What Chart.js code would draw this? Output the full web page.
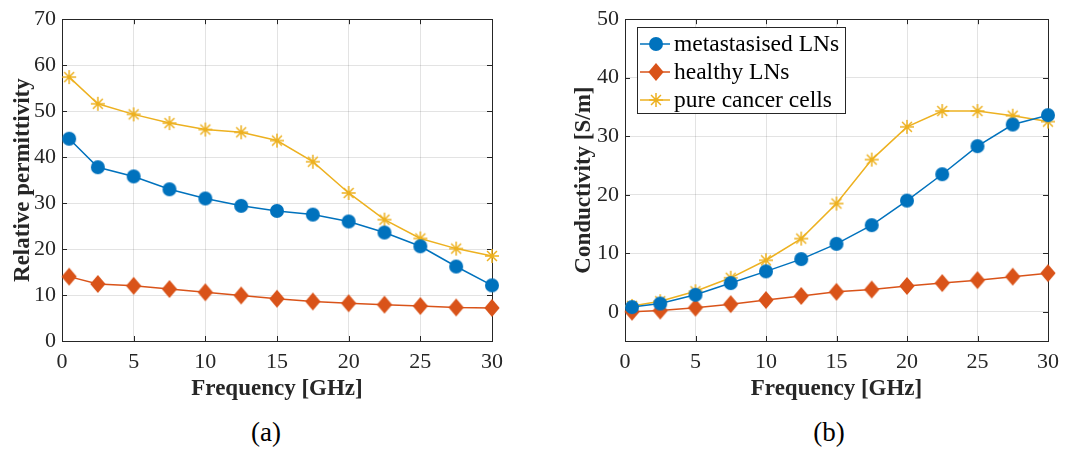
<!DOCTYPE html>
<html><head><meta charset="utf-8">
<script src="https://cdn.jsdelivr.net/npm/chart.js@4/dist/chart.umd.min.js"></script>
<style>
html,body{margin:0;padding:0;background:#fff;width:1067px;height:450px;overflow:hidden;}
#wrapA{position:absolute;left:0;top:0;width:533px;height:405px;}
#wrapB{position:absolute;left:533px;top:0;width:534px;height:405px;}
.cap{position:absolute;top:417px;font-family:"Liberation Serif",serif;font-size:27px;line-height:30px;color:#000;transform:translateX(-50%);}
</style></head>
<body>
<div id="wrapA"><canvas id="cA" width="533" height="405"></canvas></div>
<div id="wrapB"><canvas id="cB" width="534" height="405"></canvas></div>
<div class="cap" style="left:266px">(a)</div>
<div class="cap" style="left:829px">(b)</div>
<script>
// ---- data ----
const frequency = [0.5, 2.5, 5, 7.5, 10, 12.5, 15, 17.5, 20, 22.5, 25, 27.5, 30];
const seriesNames = ['metastasised LNs', 'healthy LNs', 'pure cancer cells'];
const permMetastasised = [44.0, 37.8, 35.8, 33.0, 31.0, 29.4, 28.3, 27.5, 26.0, 23.6, 20.6, 16.2, 12.1];
const permHealthy      = [14.0, 12.4, 12.0, 11.3, 10.6, 9.9, 9.2, 8.6, 8.2, 7.9, 7.6, 7.3, 7.2];
const permCancer       = [57.4, 51.6, 49.3, 47.4, 46.0, 45.4, 43.6, 39.0, 32.2, 26.4, 22.3, 20.1, 18.5];
const condMetastasised = [0.8, 1.4, 2.9, 4.9, 6.9, 9.0, 11.6, 14.8, 19.0, 23.5, 28.3, 32.0, 33.6];
const condHealthy      = [0.0, 0.2, 0.7, 1.3, 2.0, 2.7, 3.4, 3.8, 4.4, 4.9, 5.4, 6.0, 6.6];
const condCancer       = [1.0, 1.8, 3.5, 5.8, 8.8, 12.5, 18.5, 26.0, 31.6, 34.3, 34.3, 33.5, 32.5];
const xTicks = [0, 5, 10, 15, 20, 25, 30];
const yTicksA = [0, 10, 20, 30, 40, 50, 60, 70];
const yTicksB = [0, 10, 20, 30, 40, 50];

// ---- styles ----
const COLORS = ['#0072BD', '#D95319', '#EDB120'];
const STYLES = ['circle', 'rectRot', 'star'];
const RADII = [7, 9, 7];
const AXIS = '#262626';
const GRID = 'rgba(38,38,38,0.13)';
const FONT = '"Liberation Serif", "Times New Roman", serif';

function pts(ys) { return frequency.map((x, i) => ({x: x, y: ys[i]})); }

function drawMarker(ctx, style, x, y, r, color) {
  ctx.save();
  ctx.fillStyle = color; ctx.strokeStyle = color;
  ctx.beginPath();
  if (style === 'circle') {
    ctx.arc(x, y, r, 0, Math.PI * 2); ctx.fill();
  } else if (style === 'rectRot') {
    ctx.moveTo(x, y - r); ctx.lineTo(x + r * 0.85, y); ctx.lineTo(x, y + r); ctx.lineTo(x - r * 0.85, y); ctx.closePath(); ctx.fill();
  } else {
    ctx.lineWidth = 1.5;
    for (let k = 0; k < 4; k++) {
      const ang = k * Math.PI / 4;
      ctx.moveTo(x - r * Math.cos(ang), y - r * Math.sin(ang));
      ctx.lineTo(x + r * Math.cos(ang), y + r * Math.sin(ang));
    }
    ctx.stroke();
  }
  ctx.restore();
}

// custom marker canvases so shapes match the MATLAB look
function markerCanvas(i) {
  const r = RADII[i], s = Math.ceil(r * 2 + 4);
  const c = document.createElement('canvas');
  c.width = s; c.height = s;
  drawMarker(c.getContext('2d'), STYLES[i], s / 2, s / 2, r, COLORS[i]);
  return c;
}

function makeDatasets(arrs) {
  return arrs.map((ys, i) => ({
    label: seriesNames[i],
    data: pts(ys),
    borderColor: COLORS[i],
    backgroundColor: COLORS[i],
    borderWidth: 1.5,
    pointStyle: markerCanvas(i),
    pointRadius: RADII[i],
    pointHoverRadius: RADII[i],
    tension: 0,
    clip: false
  }));
}

const boxPlugin = {
  id: 'boxTicks',
  beforeDatasetsDraw(chart) {
    const {ctx, chartArea: a, scales} = chart;
    ctx.save();
    ctx.strokeStyle = AXIS;
    ctx.lineWidth = 1;
    const tl = 5;
    ctx.beginPath();
    scales.x.ticks.forEach(t => {
      const px = Math.round(scales.x.getPixelForValue(t.value)) + 0.5;
      ctx.moveTo(px, a.bottom); ctx.lineTo(px, a.bottom - tl);
      ctx.moveTo(px, a.top); ctx.lineTo(px, a.top + tl);
    });
    scales.y.ticks.forEach(t => {
      const py = Math.round(scales.y.getPixelForValue(t.value)) + 0.5;
      ctx.moveTo(a.left, py); ctx.lineTo(a.left + tl, py);
      ctx.moveTo(a.right, py); ctx.lineTo(a.right - tl, py);
    });
    ctx.stroke();
    ctx.strokeRect(Math.round(a.left) + 0.5, Math.round(a.top) + 0.5, Math.round(a.right - a.left), Math.round(a.bottom - a.top));
    ctx.restore();
  }
};

const legendPlugin = {
  id: 'boxLegend',
  afterDraw(chart) {
    if (!chart.options.plugins.boxLegend || !chart.options.plugins.boxLegend.show) return;
    const ctx = chart.ctx;
    const bx = 104, by = 27, bw = 208, bh = 86;
    ctx.save();
    ctx.fillStyle = '#fff';
    ctx.fillRect(bx, by, bw, bh);
    ctx.strokeStyle = AXIS; ctx.lineWidth = 1;
    ctx.strokeRect(bx + 0.5, by + 0.5, bw, bh);
    const rows = [44, 72, 100];
    ctx.font = '23.5px ' + FONT;
    ctx.textBaseline = 'middle';
    seriesNames.forEach((name, i) => {
      const y = rows[i];
      ctx.strokeStyle = COLORS[i]; ctx.lineWidth = 1.5;
      ctx.beginPath(); ctx.moveTo(107, y); ctx.lineTo(137, y); ctx.stroke();
      drawMarker(ctx, STYLES[i], 123, y, RADII[i], COLORS[i]);
      ctx.fillStyle = '#000';
      ctx.fillText(name, 141, y + 1);
    });
    ctx.restore();
  }
};

function makeChart(id, arrs, yMin, yMax, yTicks, yTitle, yWidth, yTitlePad, padRight, showLegend) {
  return new Chart(document.getElementById(id), {
    type: 'line',
    data: {datasets: makeDatasets(arrs)},
    plugins: [boxPlugin, legendPlugin],
    options: {
      responsive: false,
      animation: false,
      events: [],
      layout: {padding: {left: 0, right: padRight, top: 16, bottom: 0}},
      plugins: {legend: {display: false}, tooltip: {enabled: false}, boxLegend: {show: showLegend}},
      scales: {
        x: {
          type: 'linear', min: 0, max: 30,
          afterBuildTicks: s => { s.ticks = xTicks.map(v => ({value: v})); },
          afterFit: s => { s.height = 64; },
          ticks: {font: {family: FONT, size: 22}, color: AXIS, padding: 8, maxRotation: 0, autoSkip: false},
          grid: {color: GRID, drawTicks: false, lineWidth: 1},
          border: {display: false},
          title: {display: true, text: 'Frequency [GHz]', font: {family: FONT, size: 23, weight: 'bold'}, color: AXIS, padding: {top: 0, bottom: 2}}
        },
        y: {
          type: 'linear', min: yMin, max: yMax,
          afterBuildTicks: s => { s.ticks = yTicks.map(v => ({value: v})); },
          afterFit: s => { s.width = yWidth; },
          ticks: {font: {family: FONT, size: 22}, color: AXIS, padding: 6, autoSkip: false},
          grid: {color: GRID, drawTicks: false, lineWidth: 1},
          border: {display: false},
          title: {display: true, text: yTitle, font: {family: FONT, size: 23, weight: 'bold'}, color: AXIS, padding: {top: yTitlePad, bottom: 0}}
        }
      }
    }
  });
}

function build() {
  makeChart('cA', [permMetastasised, permHealthy, permCancer], 0, 70, yTicksA, 'Relative permittivity', 62, 9, 41, false);
  makeChart('cB', [condMetastasised, condHealthy, condCancer], -5, 50, yTicksB, 'Conductivity [S/m]', 92, 37, 15, true);
}
Promise.all([
  document.fonts.load('22px "Liberation Serif"'),
  document.fonts.load('bold 23px "Liberation Serif"')
]).then(build, build);
</script>
</body></html>
